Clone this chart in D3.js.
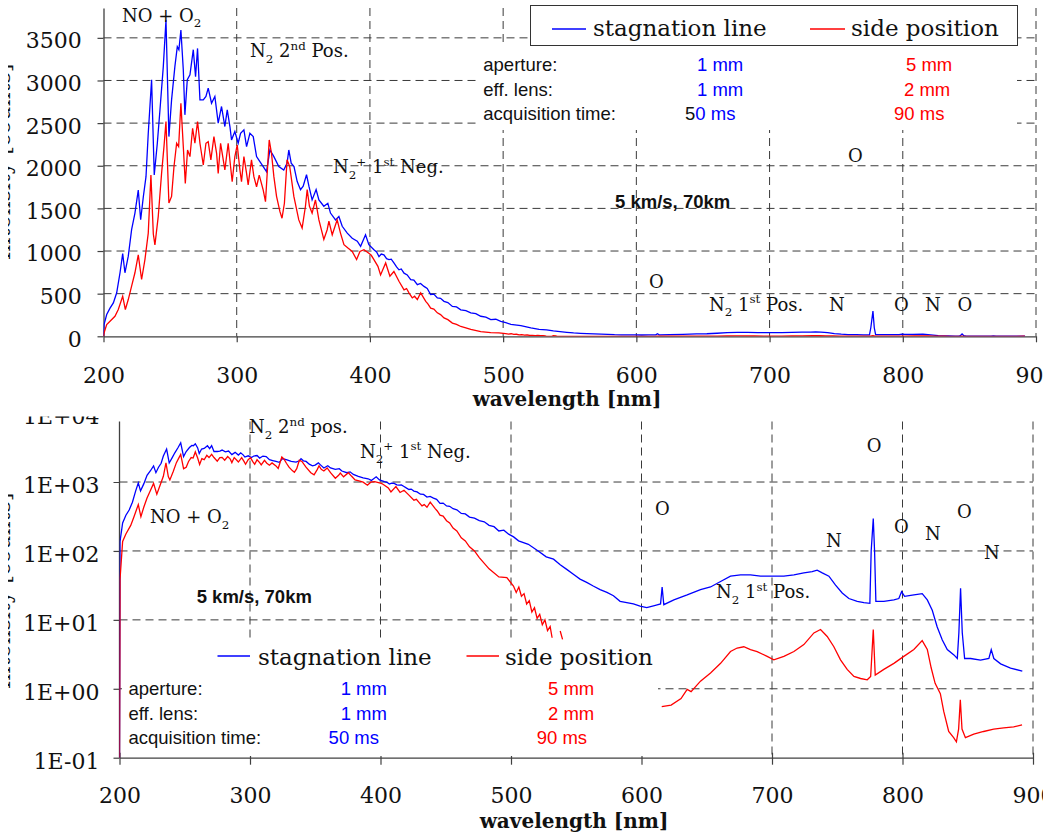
<!DOCTYPE html>
<html>
<head>
<meta charset="utf-8">
<script src="https://cdn.jsdelivr.net/npm/d3@7"></script>
<style>
  body { margin: 0; background: #fff; }
  svg { display: block; }
  text { white-space: pre; }
</style>
</head>
<body>
<svg width="1043" height="836"></svg>
<script>
// ---- data (wavelength in nm, intensity in counts) ----
var blueWl = [200.0, 200.4, 202.4, 204.9, 207.4, 209.9, 212.4, 214.4, 216.1, 218.6, 221.1, 223.6, 226.1, 227.9, 229.9,
  231.9, 233.6, 236.1, 238.1, 240.4, 242.4, 244.9, 246.9, 249.1, 251.1, 253.6, 255.4, 256.6, 258.1, 259.9,
  261.1, 262.9, 264.9, 267.4, 269.1, 270.6, 272.4, 274.9, 276.9, 278.6, 281.1, 283.6, 286.1, 288.6, 291.1,
  292.9, 294.9, 296.1, 298.6, 301.1, 302.9, 305.4, 307.4, 309.9, 312.4, 314.9, 317.4, 319.9, 322.4, 324.9,
  327.8, 331.6, 335.3, 337.8, 339.1, 340.9, 343.0, 345.4, 347.9, 349.9, 352.4, 354.2, 356.6, 359.6, 361.7,
  365.4, 368.4, 370.4, 374.2, 376.7, 379.2, 383.0, 386.7, 390.5, 393.0, 396.7, 399.2, 403.0, 405.0, 406.8,
  408.5, 410.5, 412.5, 414.3, 416.0, 418.0, 420.0, 421.8, 423.5, 425.6, 428.0, 430.6, 433.0, 435.6, 438.0,
  440.6, 443.0, 445.6, 448.0, 450.6, 453.0, 455.6, 458.5, 461.9, 465.0, 468.2, 472.0, 475.7, 479.5, 483.2,
  487.0, 490.7, 494.5, 498.2, 502.0, 505.8, 513.3, 520.8, 527.0, 532.6, 537.7, 542.7, 547.8, 552.9, 558.0,
  563.0, 568.3, 573.5, 578.5, 583.6, 588.7, 593.8, 598.9, 604.0, 609.2, 612.0, 614.6, 615.8, 617.1, 624.8,
  635.0, 645.2, 652.9, 660.6, 668.2, 675.9, 683.5, 691.2, 700.4, 709.1, 716.8, 724.4, 730.8, 734.6, 738.5,
  743.6, 748.7, 753.8, 758.9, 765.3, 770.4, 775.0, 776.0, 777.6, 778.6, 779.6, 785.7, 793.4, 797.2, 799.3,
  801.6, 807.5, 815.1, 819.0, 822.8, 826.6, 830.5, 834.3, 839.4, 842.0, 843.2, 844.5, 845.8, 847.6, 852.2,
  859.8, 866.2, 868.0, 870.0, 875.2, 882.8, 891.8];
var blueInt = [0.1, 137, 255, 330, 392, 510, 745, 970, 745, 940, 1250, 1445, 1715, 1367, 1637,
  1872, 2381, 3009, 1891, 2264, 2656, 3165, 3709, 2342, 2773, 3165, 3396, 3360, 3592, 3126,
  2597, 3009, 3067, 3361, 3045, 3376, 2773, 2773, 2812, 2911, 2733, 2813, 2499, 2695, 2460,
  2656, 2460, 2303, 2401, 2264, 2381, 2421, 2225, 2381, 2342, 2107, 2048, 1989, 1931, 2185,
  2110, 1990, 1950, 2030, 2185, 2030, 1990, 1815, 1720, 1760, 1895, 1760, 1600, 1720, 1600,
  1525, 1560, 1445, 1365, 1405, 1290, 1210, 1150, 1115, 1055, 1190, 1075, 1015, 990, 935,
  965, 955, 910, 900, 905, 860, 815, 780, 790, 740, 720, 665, 660, 605, 620,
  585, 560, 490, 495, 450, 445, 410, 395, 350, 345, 310, 300, 275, 265, 235,
  225, 195, 200, 175, 160, 140, 125, 100, 82, 76, 63, 54, 46, 39, 35,
  31, 27.5, 25, 22.4, 18.6, 17.8, 17, 15.8, 15.1, 16, 16.5, 17, 30, 16.6, 19.5,
  23, 27.5, 30, 36, 43, 45, 45, 43, 43, 43, 45, 48, 50, 52.5, 48,
  43, 32, 24.5, 20.4, 18.6, 17.8, 17.4, 100, 295, 100, 18.6, 18.6, 19.5, 20.4, 25.7,
  21.9, 22.9, 24, 19.5, 13.8, 7.9, 5.1, 3.7, 3.1, 2.75, 6.5, 28.8, 6.5, 2.75, 2.75,
  2.6, 2.75, 3.7, 2.75, 2.3, 2.0, 1.8];

var redWl = [200.0, 200.4, 202.4, 204.9, 208.6, 211.1, 214.4, 216.4, 218.6, 221.1, 223.6, 226.1, 228.6, 231.1, 233.6,
  235.6, 237.4, 238.6, 241.1, 243.6, 245.4, 246.9, 249.1, 251.1, 252.9, 254.9, 256.4, 258.1, 259.9, 261.4,
  263.1, 264.9, 266.9, 268.6, 270.6, 272.4, 274.9, 276.9, 278.6, 280.6, 282.9, 284.9, 286.1, 287.9, 289.9,
  291.1, 293.6, 295.4, 296.6, 298.6, 300.4, 302.4, 303.6, 305.4, 307.4, 308.6, 311.1, 312.9, 314.9, 316.9,
  319.9, 321.6, 324.4, 326.1, 327.9, 329.9, 332.4, 334.0, 335.8, 337.8, 339.8, 342.9, 346.6, 349.1, 351.6,
  352.9, 354.6, 356.6, 359.1, 361.7, 365.4, 367.9, 369.2, 371.7, 375.4, 377.9, 380.5, 383.5, 386.7, 390.0,
  392.5, 395.5, 399.2, 401.0, 403.0, 406.0, 408.0, 411.8, 415.0, 418.0, 421.8, 425.6, 427.5, 429.3, 431.8,
  433.5, 435.6, 438.1, 441.9, 443.5, 445.6, 448.0, 450.6, 453.0, 455.6, 458.5, 461.9, 465.0, 468.2, 472.0,
  475.7, 483.2, 490.7, 496.8, 501.9, 504.0, 506.0, 508.0, 510.0, 512.0, 514.0, 516.0, 518.0, 520.0, 522.0,
  524.0, 526.0, 528.0, 530.0, 531.5, 532.5, 536.5, 537.7, 539.5, 540.5, 614.5, 615.5, 622.7, 630.3, 635.0,
  638.0, 645.2, 652.9, 660.6, 668.2, 673.3, 678.4, 683.5, 688.6, 696.3, 701.4, 709.1, 716.8, 724.4, 732.1,
  737.2, 742.3, 747.4, 752.5, 757.6, 762.8, 767.9, 773.0, 775.6, 777.6, 779.1, 785.7, 793.4, 801.0, 808.7,
  815.1, 819.0, 822.0, 825.0, 829.0, 831.6, 835.4, 839.2, 841.3, 843.0, 844.3, 845.6, 848.2, 854.6, 862.2,
  869.9, 877.6, 885.2, 891.6];
var redInt = [0.1, 39, 137, 176, 235, 314, 470, 314, 431, 588, 745, 955, 666, 900, 1210,
  1891, 1200, 1073, 1406, 1911, 2225, 2519, 1563, 1641, 1989, 2264, 2225, 2734, 2225, 1793,
  2185, 2107, 2440, 2264, 2519, 2264, 2009, 2264, 2283, 2068, 2342, 2146, 1911, 2264, 2068,
  1950, 2264, 1989, 1813, 2107, 2244, 1950, 1813, 2107, 1911, 1774, 2068, 1872, 1754, 1891,
  1715, 1578, 2303, 2146, 1872, 1641, 1465, 1385, 1560, 2070, 1990, 1640, 1365, 1270, 1525,
  1720, 1525, 1445, 1600, 1365, 1135, 1250, 1350, 1190, 1365, 1210, 1075, 1035, 995, 900,
  995, 1015, 975, 950, 900, 820, 720, 860, 705, 760, 645, 545, 560, 510, 450,
  470, 430, 510, 410, 380, 330, 320, 275, 255, 215, 195, 155, 140, 115, 100,
  80, 55, 42, 41, 31, 25, 30, 22, 24, 17, 19, 13, 15, 10.5, 12,
  8.5, 10, 7, 8, 5.5, 0, 0, 6.9, 5.2, 0, 0, 0.55, 0.58, 0.72, 0.98,
  0.91, 1.29, 1.7, 2.34, 3.47, 3.9, 4.07, 3.7, 3.47, 2.95, 2.63, 2.95, 3.47, 4.37, 6.46,
  7.24, 5.75, 4.07, 2.63, 1.91, 1.51, 1.41, 1.35, 1.51, 7.24, 1.58, 1.91, 2.34, 2.95, 3.72,
  5.0, 3.72, 2.0, 1.2, 0.85, 0.47, 0.24, 0.195, 0.17, 0.26, 0.69, 0.26, 0.195, 0.22, 0.24,
  0.26, 0.27, 0.28, 0.3];

var xTicks = [200, 300, 400, 500, 600, 700, 800, 900];
var yTicksLin = [0, 500, 1000, 1500, 2000, 2500, 3000, 3500];
var yTicksLog = [0.1, 1, 10, 100, 1000, 10000];
var yLogLabels = ["1E-01", "1E+00", "1E+01", "1E+02", "1E+03", "1E+04"];

var seriesNames = ["stagnation line", "side position"];
var infoRows = ["aperture:", "eff. lens:", "acquisition time:"];
var infoBlue = ["1 mm", "1 mm", "50 ms"];
var infoRed = ["5 mm", "2 mm", "90 ms"];
var caseLabel = "5 km/s, 70km";
var xTitle = "wavelength [nm]";
var yTitle = "Intensity [counts]";

// ---- setup ----
var svg = d3.select("svg");
var serif = "'DejaVu Serif', serif";
var sans = "'Liberation Sans', Arial, sans-serif";
var gridCol = "#3a3a3a", axisCol = "#404040";
var BLUE = "#0000ff", RED = "#ff0000";

function series(wl, v) { return wl.map(function (w, i) { return { w: w, v: v[i] }; }); }
var blue = series(blueWl, blueInt), red = series(redWl, redInt);

// text with sub/superscripts: parts = [[text, "sub"|"sup"|undefined], ...]
function rich(g, x, y, parts, size) {
  var t = g.append("text").attr("x", x).attr("y", y)
    .style("font-family", serif).style("font-size", size + "px").attr("fill", "#111");
  var shift = 0;
  parts.forEach(function (p) {
    var target = p[1] == "sub" ? size * 0.3 : p[1] == "sup" ? -size * 0.42 : 0;
    t.append("tspan").attr("dy", target - shift)
      .style("font-size", (p[1] ? size * 0.66 : size) + "px").text(p[0]);
    shift = target;
  });
  return t;
}

function styleAxis(g) {
  g.selectAll("text").style("font-family", serif).style("font-size", "22px").attr("fill", "#111");
  g.selectAll("line").attr("stroke", axisCol).attr("stroke-width", 1.2);
  g.select(".domain").attr("stroke", axisCol).attr("stroke-width", 1.3);
}

// y titles are cut by the left edge of the picture, only a sliver shows
function yTitleText(cy) {
  var gT = svg.append("g").attr("clip-path", "url(#clipTitle)");
  gT.append("text").attr("transform", "translate(9.5," + cy + ") rotate(-90)")
    .attr("text-anchor", "middle").style("font-family", serif).style("font-size", "22px")
    .attr("fill", "#111").text(yTitle);
}

var defs = svg.append("defs");
defs.append("clipPath").attr("id", "clipTitle").append("rect").attr("x", 8).attr("y", 0).attr("width", 30).attr("height", 836);

// ======================= top panel (linear) =======================
var P1 = { l: 103.5, r: 1036, t: 8, b: 336.3 };
var x1 = d3.scaleLinear().domain([200, 900]).range([P1.l, P1.r]);
var y1 = d3.scaleLinear().domain([0, 3850]).range([P1.b, P1.t]);
defs.append("clipPath").attr("id", "clip1").append("rect")
  .attr("x", P1.l).attr("y", 0).attr("width", P1.r - P1.l).attr("height", P1.b);

var g1 = svg.append("g");
g1.selectAll(".hg").data(yTicksLin.slice(1)).enter().append("line")
  .attr("x1", P1.l).attr("x2", P1.r).attr("y1", y1).attr("y2", y1)
  .attr("stroke", gridCol).attr("stroke-dasharray", "8,5");
g1.selectAll(".vg").data(xTicks.slice(1)).enter().append("line")
  .attr("x1", x1).attr("x2", x1).attr("y1", P1.t).attr("y2", P1.b)
  .attr("stroke", gridCol).attr("stroke-dasharray", "8,5");

var gx1 = g1.append("g").attr("transform", "translate(0," + P1.b + ")")
  .call(d3.axisBottom(x1).tickValues(xTicks).tickSize(6).tickSizeOuter(0).tickFormat(d3.format("d")));
styleAxis(gx1);
gx1.selectAll("text").attr("y", 47).attr("dy", null);

var gy1 = g1.append("g").attr("transform", "translate(" + P1.l + ",0)")
  .call(d3.axisLeft(y1).tickValues(yTicksLin).tickSize(6).tickSizeOuter(0).tickFormat(d3.format("d")));
styleAxis(gy1);
gy1.selectAll("text").attr("x", -21.8).attr("dy", "0.45em");

var line1 = d3.line().x(function (d) { return x1(d.w); }).y(function (d) { return y1(d.v); });
var gd1 = g1.append("g").attr("clip-path", "url(#clip1)");
gd1.append("path").datum(blue).attr("d", line1).attr("fill", "none").attr("stroke", BLUE).attr("stroke-width", 1.3);
gd1.append("path").datum(red).attr("d", line1).attr("fill", "none").attr("stroke", RED).attr("stroke-width", 1.3);

// info block + legend
g1.append("rect").attr("x", 480).attr("y", 46).attr("width", 537).attr("height", 84).attr("fill", "#fff");
g1.append("rect").attr("x", 530.5).attr("y", 5.5).attr("width", 487).attr("height", 40)
  .attr("fill", "#fff").attr("stroke", "#333").attr("stroke-width", 1);
[[552, 586, 593, BLUE], [810, 845, 851, RED]].forEach(function (L, i) {
  g1.append("line").attr("x1", L[0]).attr("x2", L[1]).attr("y1", 29).attr("y2", 29).attr("stroke", L[3]).attr("stroke-width", 1.5);
  g1.append("text").attr("x", L[2]).attr("y", 36).style("font-family", serif).style("font-size", "23px")
    .attr("fill", "#111").text(seriesNames[i]);
});
var rowY1 = [71, 96, 119.5];
infoRows.forEach(function (r, i) {
  g1.append("text").attr("x", 483.3).attr("y", rowY1[i]).style("font-family", sans).style("font-size", "18.5px").attr("fill", "#111").text(r);
});
var bx1 = [697, 697, 685], rx1 = [906, 904, 894];
infoBlue.forEach(function (s, i) {
  var t = g1.append("text").attr("x", bx1[i]).attr("y", rowY1[i]).style("font-family", sans).style("font-size", "18.5px");
  if (i == 2) {
    t.append("tspan").attr("fill", "#111").text(s.slice(0, 1));
    t.append("tspan").attr("fill", BLUE).text(s.slice(1));
  } else t.attr("fill", BLUE).text(s);
  g1.append("text").attr("x", rx1[i]).attr("y", rowY1[i]).style("font-family", sans).style("font-size", "18.5px").attr("fill", RED).text(infoRed[i]);
});
g1.append("text").attr("x", 615).attr("y", 208).style("font-family", sans).style("font-size", "18.5px")
  .style("font-weight", "bold").attr("fill", "#111").text(caseLabel);

rich(g1, 122, 21.7, [["NO + O"], ["2", "sub"]], 18);
rich(g1, 250, 57.3, [["N"], ["2", "sub"], [" 2"], ["nd", "sup"], [" Pos."]], 18);
rich(g1, 333, 173.3, [["N"], ["2", "sub"], ["+", "sup"], [" 1"], ["st", "sup"], [" Neg."]], 18);
rich(g1, 709, 310.7, [["N"], ["2", "sub"], [" 1"], ["st", "sup"], [" Pos."]], 18);
[[848, 162, "O"], [649, 288, "O"], [829, 310.7, "N"], [894, 310.7, "O"], [925, 310.7, "N"], [957.6, 310.7, "O"]]
  .forEach(function (a) { rich(g1, a[0], a[1], [[a[2]]], 18); });

g1.append("text").attr("x", 567).attr("y", 406).attr("text-anchor", "middle")
  .style("font-family", serif).style("font-size", "20px").style("font-weight", "bold").attr("fill", "#111").text(xTitle);
yTitleText(162);

// ======================= bottom panel (log) =======================
var P2 = { l: 119.5, r: 1033, t: 421.5, b: 757.7 };
var x2 = d3.scaleLinear().domain([200, 900]).range([P2.l, P2.r]);
var y2 = d3.scaleLog().domain([0.1, 10000]).range([P2.b, 413.1]);
defs.append("clipPath").attr("id", "clipPanel2").append("rect").attr("x", 0).attr("y", 416.5).attr("width", 1043).attr("height", 420);
defs.append("clipPath").attr("id", "clip2").append("rect")
  .attr("x", P2.l).attr("y", P2.t).attr("width", P2.r - P2.l).attr("height", P2.b - P2.t);

var g2 = svg.append("g").attr("clip-path", "url(#clipPanel2)");
g2.selectAll(".hg").data(yTicksLog.slice(1, 5)).enter().append("line")
  .attr("x1", P2.l).attr("x2", P2.r).attr("y1", y2).attr("y2", y2)
  .attr("stroke", gridCol).attr("stroke-dasharray", "8,5");
g2.selectAll(".vg").data(xTicks.slice(1)).enter().append("line")
  .attr("x1", x2).attr("x2", x2).attr("y1", P2.t).attr("y2", P2.b)
  .attr("stroke", gridCol).attr("stroke-dasharray", "8,5");

var gx2 = g2.append("g").attr("transform", "translate(0," + P2.b + ")")
  .call(d3.axisBottom(x2).tickValues(xTicks).tickSize(7).tickSizeOuter(0).tickFormat(d3.format("d")));
styleAxis(gx2);
gx2.selectAll(".tick line").attr("y1", -5);
gx2.selectAll("text").attr("y", 45).attr("dy", null);

var gy2 = g2.append("g").attr("transform", "translate(" + P2.l + ",0)")
  .call(d3.axisLeft(y2).tickValues(yTicksLog).tickSize(6).tickSizeOuter(0)
    .tickFormat(function (d, i) { return yLogLabels[i]; }));
styleAxis(gy2);
gy2.select(".domain").remove();
gy2.append("line").attr("x1", 0).attr("x2", 0).attr("y1", P2.t).attr("y2", P2.b).attr("stroke", axisCol).attr("stroke-width", 1.3);
gy2.selectAll("text").attr("x", -20).attr("dy", "0.48em");

var line2 = d3.line().defined(function (d) { return d.v > 0; })
  .x(function (d) { return x2(d.w); }).y(function (d) { return y2(d.v); });
var gd2 = g2.append("g").attr("clip-path", "url(#clip2)");
gd2.append("path").datum(blue).attr("d", line2).attr("fill", "none").attr("stroke", BLUE).attr("stroke-width", 1.3);
gd2.append("path").datum(red).attr("d", line2).attr("fill", "none").attr("stroke", RED).attr("stroke-width", 1.3);

// legend + info block (white box, no frame)
g2.append("rect").attr("x", 122).attr("y", 641).attr("width", 536).attr("height", 115).attr("fill", "#fff");
[[217.5, 250, 258, BLUE], [466.5, 499, 505, RED]].forEach(function (L, i) {
  g2.append("line").attr("x1", L[0]).attr("x2", L[1]).attr("y1", 656).attr("y2", 656).attr("stroke", L[3]).attr("stroke-width", 1.5);
  g2.append("text").attr("x", L[2]).attr("y", 665).style("font-family", serif).style("font-size", "23px")
    .attr("fill", "#111").text(seriesNames[i]);
});
var rowY2 = [695, 719.5, 744];
var bx2 = [340.7, 340.7, 328.6], rx2 = [548, 548, 536.7];
infoRows.forEach(function (r, i) {
  g2.append("text").attr("x", 128.5).attr("y", rowY2[i]).style("font-family", sans).style("font-size", "18.5px").attr("fill", "#111").text(r);
  g2.append("text").attr("x", bx2[i]).attr("y", rowY2[i]).style("font-family", sans).style("font-size", "18.5px").attr("fill", BLUE).text(infoBlue[i]);
  g2.append("text").attr("x", rx2[i]).attr("y", rowY2[i]).style("font-family", sans).style("font-size", "18.5px").attr("fill", RED).text(infoRed[i]);
});
g2.append("text").attr("x", 196.7).attr("y", 603.3).style("font-family", sans).style("font-size", "18.5px")
  .style("font-weight", "bold").attr("fill", "#111").text(caseLabel);

rich(g2, 249, 433.3, [["N"], ["2", "sub"], [" 2"], ["nd", "sup"], [" pos."]], 18);
rich(g2, 360, 458, [["N"], ["2", "sub"], ["+", "sup"], [" 1"], ["st", "sup"], [" Neg."]], 18);
rich(g2, 150, 523.3, [["NO + O"], ["2", "sub"]], 18);
rich(g2, 716, 598.3, [["N"], ["2", "sub"], [" 1"], ["st", "sup"], [" Pos."]], 18);
[[655, 515, "O"], [866.7, 451.7, "O"], [826, 546.7, "N"], [894, 533.3, "O"], [925, 540, "N"], [957, 518.3, "O"], [984, 559.3, "N"]]
  .forEach(function (a) { rich(g2, a[0], a[1], [[a[2]]], 18); });

g2.append("text").attr("x", 574).attr("y", 828).attr("text-anchor", "middle")
  .style("font-family", serif).style("font-size", "20px").style("font-weight", "bold").attr("fill", "#111").text(xTitle);
yTitleText(591);
</script>
</body>
</html>
